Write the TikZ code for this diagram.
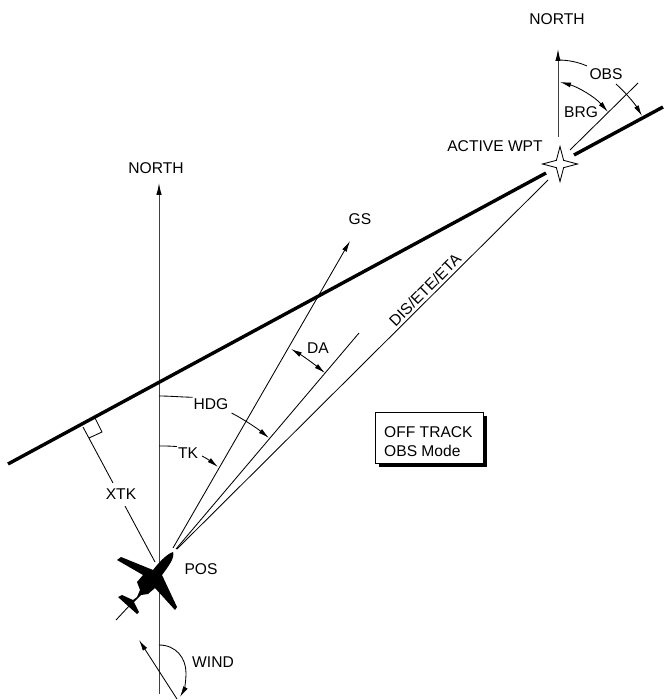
\documentclass[tikz,border=0pt]{standalone}
\usepackage{fontspec}
\setmainfont{Liberation Sans}
\usetikzlibrary{arrows.meta,positioning,shapes.geometric}

\begin{document}
\begin{tikzpicture}[
  x=1pt, y=-1pt,
  lbl/.style={font=\fontsize{15.6}{19}\selectfont, inner sep=1pt},
  thin line/.style={line width=0.85pt},
  track/.style={line width=3.4pt},
  north/.style={line width=1pt, black!75, -{Latex[length=12pt,width=5.5pt,black]}},
  pointer/.style={thin line, -{Latex[length=11pt,width=5pt]}},
  twohead/.style={thin line, {Latex[length=11pt,width=5pt]}-{Latex[length=11pt,width=5pt]}},
  note/.style={draw, line width=0.9pt, fill=white, minimum width=108pt, minimum height=51pt, inner sep=0pt}
]
\useasboundingbox (0,0) rectangle (664,700);
% aircraft and waypoint
\coordinate (pos) at (177,549);
\coordinate (wpt) at (548,180);
\coordinate (northbase) at (159,694);
\coordinate (northtip) at (159,183);
\coordinate (wptbase) at (558,137);
\coordinate (wpttip) at (558,49);
\coordinate (gsbase) at (173,548);
\coordinate (gstip) at (350,241);
\coordinate (hdgbase) at (176,549);
\coordinate (hdgtip) at (359,333);
\coordinate (obsbase) at (570,150);
\coordinate (obstip) at (638,83);
\coordinate (tracka) at (8,464);
\coordinate (trackb) at (546,173);
\coordinate (trackc) at (574,155);
\coordinate (trackd) at (663,107);
\coordinate (xtka) at (83,427);
\coordinate (xtkb) at (113,483);
\coordinate (xtkc) at (125,506);
\coordinate (xtkd) at (155,562);
\coordinate (winda) at (177,699);
\coordinate (windb) at (139,640);
\coordinate (tailend) at (116,620);
\coordinate (tailin) at (130,605);

% labels
\node[lbl] (northl) at (156,168) {NORTH};
\node[lbl] (northr) at (557,19) {NORTH};
\node[lbl] (active) at (495,146) {ACTIVE WPT};
\node[lbl] (gs) at (360,219) {GS};
\node[lbl] (da) at (318,348) {DA};
\node[lbl] (hdg) at (211,404) {HDG};
\node[lbl] (tk) at (188,453) {TK};
\node[lbl] (xtk) at (121,494) {XTK};
\node[lbl] (obs) at (606,74) {OBS};
\node[lbl] (brg) at (581,112) {BRG};
\node[lbl] (posl) at (201,569) {POS};
\node[lbl] (wind) at (213,662) {WIND};
\node[lbl, rotate=45] (dis) at (425,290) {DIS/ETE/ETA};

% main lines
\draw[north] (northbase) -- (northtip);
\draw[north] (wptbase) -- (wpttip);
\draw[track] (tracka) -- (trackb);
\draw[track] (trackc) -- (trackd);
\draw[pointer] (gsbase) -- (gstip);
\draw[thin line] (hdgbase) -- (hdgtip);
\draw[thin line] (pos) -- (wpt);
\draw[thin line] (obsbase) -- (obstip);

% off-track distance
\draw[thin line] (xtka) -- (xtkb);
\draw[thin line] (xtkc) -- (xtkd);
\draw[thin line] (95,418) -- (102,432) -- (89,438);

% angle marks
\draw[thin line] (159,396) .. controls (170,396) and (180,397) .. (hdg.160);
\draw[pointer] (hdg.east) ++(2,9) .. controls (245,420) and (258,429) .. (269,438);
\draw[thin line] (159,446) .. controls (165,446) and (170,446) .. (tk.150);
\draw[pointer] (202,456) .. controls (208,459) and (213,463) .. (218,467);
\draw[twohead] (291,349) .. controls (303,356) and (314,364) .. (325,373);
\draw[thin line] (558,60) .. controls (568,60) and (578,62) .. (587,66);
\draw[pointer] (616,84) .. controls (626,93) and (635,104) .. (642,116);
\draw[twohead] (560,82) .. controls (578,87) and (595,97) .. (608,112);
\draw[pointer] (159,645) .. controls (176,645) and (186,658) .. (186,673) .. controls (186,682) and (184,690) .. (180,697);
\draw[pointer] (winda) -- (windb);

% waypoint star
\node[star, star points=4, star point ratio=3.4, draw, thin line, fill=white, minimum size=35pt, inner sep=0pt] (star) at (560,164) {};

% aircraft
\draw[thin line] (tailin) -- (tailend);
\fill (173,552) .. controls (167,554) and (160,561) .. (153,570) -- (121,557) -- (117,560)
  -- (143,575) -- (137,582) -- (140,590) -- (137,597) -- (133,600) -- (122,595) -- (118,597)
  -- (128,606) -- (137,614) -- (139,612) -- (134,602) -- (141,595) -- (148,594) -- (155,588)
  -- (175,610) -- (177,607) -- (162,575) .. controls (168,567) and (175,558) .. (173,552) -- cycle;

% off-track note
\fill (379,416) rectangle (487,467);
\node[note, anchor=north west] (offtrack) at (375,412) {};
\node[lbl, align=left, anchor=west, right=8pt of offtrack.west, yshift=-3.5pt] (offtext) {OFF TRACK\\OBS Mode};
\end{tikzpicture}
\end{document}
